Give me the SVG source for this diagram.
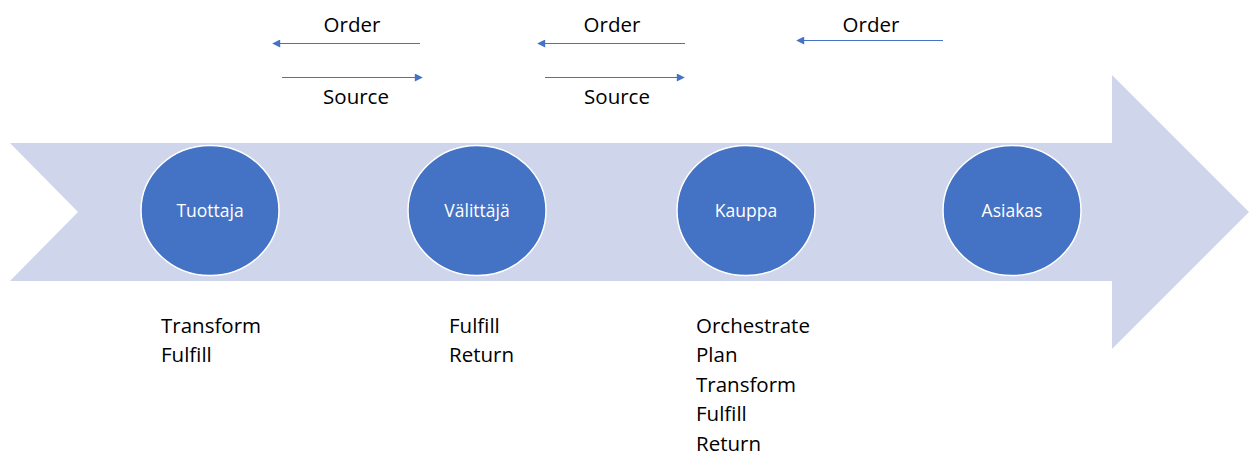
<svg xmlns="http://www.w3.org/2000/svg" width="1249" height="456" viewBox="0 0 1249 456">
  <defs>
    <marker id="head" viewBox="0 0 10 10" refX="9" refY="5" markerWidth="10" markerHeight="8" markerUnits="userSpaceOnUse" orient="auto">
      <path d="M0,0 L10,5 L0,10 z" fill="#4472C4"/>
    </marker>
    <style>
      .flow { fill: #CFD5EA; }
      .node ellipse { fill: #4472C4; stroke: #ffffff; stroke-width: 1.5; }
      .node text { fill: #ffffff; font-family: "Open Sans", "Noto Sans", sans-serif; font-size: 17.5px; text-anchor: middle; }
      .lbl { fill: #000000; font-family: "Open Sans", "Noto Sans", sans-serif; font-size: 20.5px; }
      .mid { text-anchor: middle; }
      .conn line { stroke: #4472C4; stroke-width: 1; marker-end: url(#head); }
    </style>
  </defs>

  <!-- big chevron arrow in the background -->
  <polygon class="flow" points="10,143 1112,143 1112,75 1249,212 1112,349 1112,281 10,281 78,212"/>

  <!-- chain members -->
  <g id="tuottaja" class="node">
    <ellipse cx="210" cy="210.5" rx="69" ry="65"/>
    <text x="210" y="217">Tuottaja</text>
  </g>
  <g id="valittaja" class="node">
    <ellipse cx="477" cy="210.5" rx="69" ry="65"/>
    <text x="477" y="217">Välittäjä</text>
  </g>
  <g id="kauppa" class="node">
    <ellipse cx="746" cy="210.5" rx="69" ry="65"/>
    <text x="746" y="217">Kauppa</text>
  </g>
  <g id="asiakas" class="node">
    <ellipse cx="1012" cy="210.5" rx="69" ry="65"/>
    <text x="1012" y="217">Asiakas</text>
  </g>

  <!-- order and source flows -->
  <g id="connectors" class="conn">
    <line x1="420" y1="43.5" x2="273" y2="43.5"/>
    <line x1="282" y1="77.5" x2="422" y2="77.5"/>
    <line x1="685" y1="43.5" x2="538" y2="43.5"/>
    <line x1="545" y1="77.5" x2="684" y2="77.5"/>
    <line x1="943" y1="40.5" x2="797" y2="40.5"/>
  </g>

  <!-- flow labels -->
  <text class="lbl mid" x="352" y="32">Order</text>
  <text class="lbl mid" x="356" y="104">Source</text>
  <text class="lbl mid" x="612" y="32">Order</text>
  <text class="lbl mid" x="617" y="104">Source</text>
  <text class="lbl mid" x="871" y="32">Order</text>

  <!-- process lists -->
  <text class="lbl" x="161" y="333">Transform</text>
  <text class="lbl" x="161" y="362">Fulfill</text>

  <text class="lbl" x="449" y="333">Fulfill</text>
  <text class="lbl" x="449" y="362">Return</text>

  <text class="lbl" x="696" y="333">Orchestrate</text>
  <text class="lbl" x="696" y="362">Plan</text>
  <text class="lbl" x="696" y="392">Transform</text>
  <text class="lbl" x="696" y="421">Fulfill</text>
  <text class="lbl" x="696" y="451">Return</text>
</svg>
